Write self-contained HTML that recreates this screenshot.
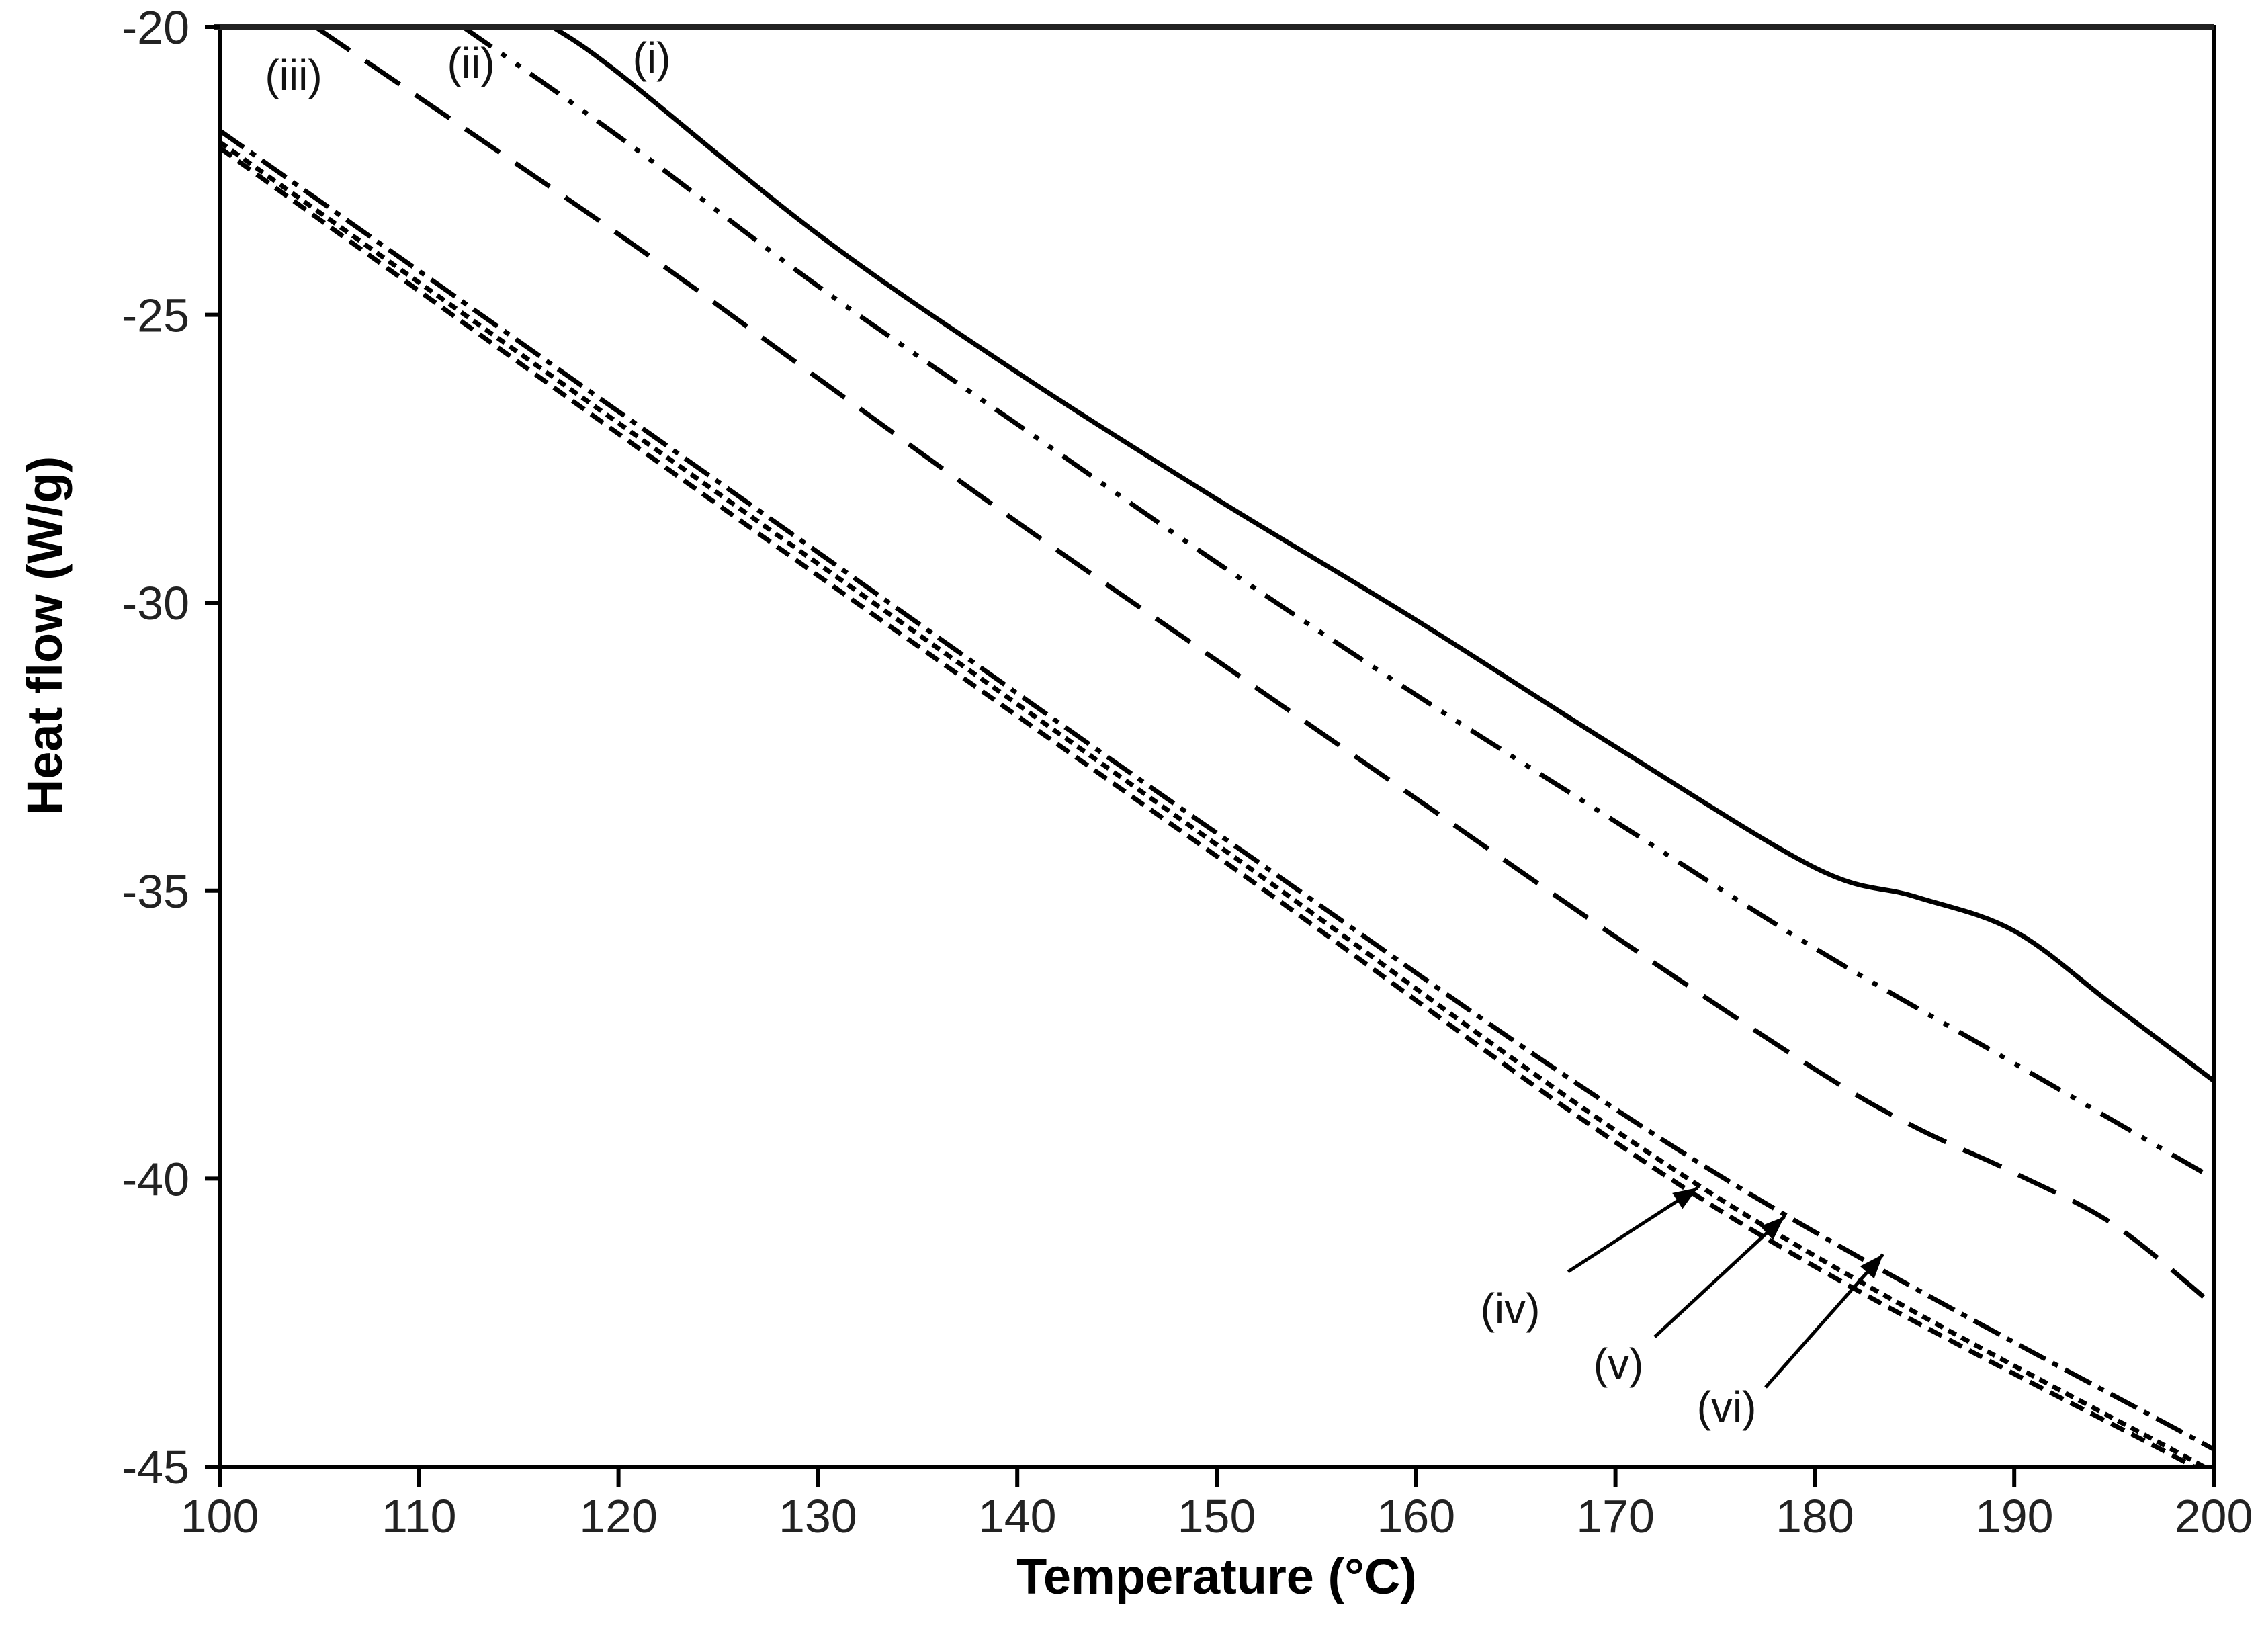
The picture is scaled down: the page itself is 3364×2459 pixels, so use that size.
<!DOCTYPE html>
<html><head><meta charset="utf-8"><style>
html,body{margin:0;padding:0;background:#fff;}
svg{display:block;font-family:"Liberation Sans Narrow","Liberation Sans",sans-serif;}
</style></head><body>
<svg id="chart" width="3364" height="2459" viewBox="0 0 3364 2459" xmlns="http://www.w3.org/2000/svg">
<rect width="3364" height="2459" fill="#fff"/>
<g id="series"></g>
<g id="axes"></g>
<g id="annot"></g>
<text x="1811" y="2372" text-anchor="middle" font-family="Liberation Sans, sans-serif" font-weight="bold" font-size="74">Temperature (°C)</text>
<text x="0" y="0" transform="translate(92,946) rotate(-90)" text-anchor="middle" font-family="Liberation Sans, sans-serif" font-weight="bold" font-size="74">Heat flow (W/g)</text>
</svg>
<script>
const xTicks=[100,110,120,130,140,150,160,170,180,190,200];
const yTicks=[-20,-25,-30,-35,-40,-45];
const s1x=[116.7,120,130,140,150,160,170,180,185,190,195,200];
const s1y=[-20,-20.8,-23.6,-26.0,-28.2,-30.3,-32.5,-34.6,-35.1,-35.7,-37.0,-38.3];
const s2x=[112.2,120,130,140,150,160,170,180,190,200];
const s2y=[-20,-21.9,-24.5,-26.9,-29.3,-31.6,-33.8,-36.0,-38.0,-40.0];
const s3x=[104.8,120,130,140,150,160,170,180,185,190,195,200];
const s3y=[-20,-23.6,-26.1,-28.6,-31.0,-33.4,-35.8,-38.1,-39.1,-39.9,-40.8,-42.2];
const s4x=[100,125,150,175,199];
const s4y=[-22.1,-28.3,-34.4,-40.5,-45];
const s5x=[100,125,150,175,199.5];
const s5y=[-22.0,-28.1,-34.2,-40.3,-45];
const s6x=[100,125,150,175,200];
const s6y=[-21.8,-27.9,-34.0,-39.9,-44.7];
const X0=327,X1=3295,Y0=40,Y1=2183;
function sx(v){return X0+(v-100)/100*(X1-X0);}
function sy(v){return Y0+(-20-v)/25*(Y1-Y0);}
const NS="http://www.w3.org/2000/svg";
function mk(tag,attrs,parent){const e=document.createElementNS(NS,tag);for(const k in attrs)e.setAttribute(k,attrs[k]);parent.appendChild(e);return e;}
function pathD(xs,ys){
  const p=xs.map((x,i)=>[sx(x),sy(ys[i])]);
  let d="M"+p[0][0]+","+p[0][1];
  for(let i=0;i<p.length-1;i++){
    const a=p[Math.max(i-1,0)],b=p[i],c=p[i+1],e=p[Math.min(i+2,p.length-1)];
    const c1=[b[0]+(c[0]-a[0])/6,b[1]+(c[1]-a[1])/6],c2=[c[0]-(e[0]-b[0])/6,c[1]-(e[1]-b[1])/6];
    d+=" C"+c1+" "+c2+" "+c;
  }
  return d;
}
const sg=document.getElementById('series');
const defs=[[s1x,s1y,"none","series-i"],[s2x,s2y,"52,18,8,18,8,18","series-ii"],[s3x,s3y,"62,28","series-iii"],[s4x,s4y,"22,12","series-iv"],[s5x,s5y,"13,9","series-v"],[s6x,s6y,"44,12,9,12","series-vi"]];
defs.forEach(d=>{
  const el=mk('path',{d:pathD(d[0],d[1]),fill:"none",stroke:"#000","stroke-width":7,"stroke-dasharray":d[2]},sg);
  
  
});
const ax=document.getElementById('axes');
const frame=mk('rect',{x:X0,y:Y0,width:X1-X0,height:Y1-Y0,fill:"none",stroke:"#000","stroke-width":6},ax);


mk('line',{x1:X0-8,y1:Y0,x2:X1,y2:Y0,stroke:"#222","stroke-width":10},ax);
xTicks.forEach(t=>{
  const l=mk('line',{x1:sx(t),y1:Y1,x2:sx(t),y2:Y1+30,stroke:"#000","stroke-width":6},ax);
  
  
  const tx=mk('text',{x:sx(t),y:Y1+98,"text-anchor":"middle","font-size":70,fill:"#222"},ax);
  tx.textContent=t;
  
  
});
yTicks.forEach(t=>{
  const l=mk('line',{x1:X0-22,y1:sy(t),x2:X0,y2:sy(t),stroke:"#000","stroke-width":6},ax);
  
  
  const tx=mk('text',{x:X0-45,y:sy(t)+25,"text-anchor":"end","font-size":70,fill:"#222"},ax);
  tx.textContent=t;
  
  
});
const an=document.getElementById('annot');
const labs=[["(iii)",437,134],["(ii)",701,116],["(i)",970,108],["(iv)",2248,1970],["(v)",2409,2052],["(vi)",2570,2116]];
labs.forEach(l=>{
  const tx=mk('text',{x:l[1],y:l[2],"text-anchor":"middle","font-size":64,fill:"#111"},an);
  tx.textContent=l[0];
  
  
});
const arrows=[[2334,1893,2527,1768],[2463,1990,2656,1811],[2628,2065,2803,1867]];
arrows.forEach(a=>{
  const g=mk('g',{},an);
  
  
  mk('line',{x1:a[0],y1:a[1],x2:a[2],y2:a[3],stroke:"#000","stroke-width":5},g);
  const ang=Math.atan2(a[3]-a[1],a[2]-a[0]),L=36,W=14;
  const bx=a[2]-L*Math.cos(ang),by=a[3]-L*Math.sin(ang);
  const px=-Math.sin(ang)*W,py=Math.cos(ang)*W;
  mk('polygon',{points:`${a[2]},${a[3]} ${bx+px},${by+py} ${bx-px},${by-py}`,fill:"#000"},g);
});
</script>
</body></html>
